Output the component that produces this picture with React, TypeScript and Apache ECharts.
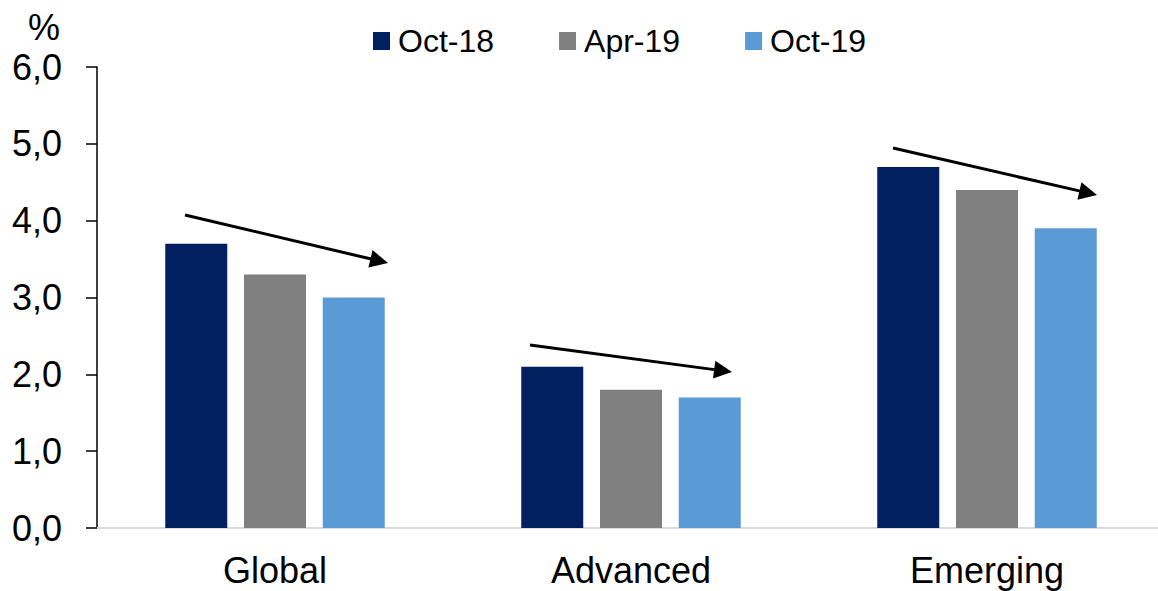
import React, { useEffect, useRef } from "react";
import * as echarts from "echarts";

const categories = ["Global", "Advanced", "Emerging"];
const seriesNames = ["Oct-18", "Apr-19", "Oct-19"];
const oct18 = [3.7, 2.1, 4.7];
const apr19 = [3.3, 1.8, 4.4];
const oct19 = [3.0, 1.7, 3.9];
const colors = ["#002060", "#808080", "#5B9BD5"];

// annotation arrows (pixel positions): x1, y1, x2 (tip), y2 (tip)
const arrows = [
  [185, 215, 388, 263],
  [530, 345, 732, 372],
  [893, 148, 1097, 195],
];

const FONT = "'Liberation Sans', Arial, sans-serif";

function arrowGraphics() {
  const els: any[] = [];
  arrows.forEach(([x1, y1, x2, y2]) => {
    const dx = x2 - x1;
    const dy = y2 - y1;
    const len = Math.sqrt(dx * dx + dy * dy);
    const ux = dx / len;
    const uy = dy / len;
    const px = -uy;
    const py = ux;
    const headLen = 18;
    const headHalf = 9;
    const bx = x2 - ux * headLen;
    const by = y2 - uy * headLen;
    els.push({
      type: "line",
      shape: { x1, y1, x2: bx + ux * 2, y2: by + uy * 2 },
      style: { stroke: "#000", lineWidth: 3 },
      z: 100,
    });
    els.push({
      type: "polygon",
      shape: {
        points: [
          [x2, y2],
          [bx + px * headHalf, by + py * headHalf],
          [bx - px * headHalf, by - py * headHalf],
        ],
      },
      style: { fill: "#000" },
      z: 100,
    });
  });
  return els;
}

export default function App() {
  const ref = useRef<HTMLDivElement>(null);
  useEffect(() => {
    if (!ref.current) return;
    const chart = echarts.init(ref.current, undefined, { renderer: "svg" });
    const data = [oct18, apr19, oct19];
    chart.setOption({
      animation: false,
      backgroundColor: "#fff",
      textStyle: { fontFamily: FONT },
      legend: {
        data: seriesNames,
        left: 373,
        top: 25,
        padding: 0,
        itemWidth: 17,
        itemHeight: 18,
        itemGap: 65,
        icon: "rect",
        textStyle: { fontSize: 32, color: "#000", fontFamily: FONT, padding: [0, 0, 0, 3] },
      },
      grid: { left: 97, right: 0, top: 67, bottom: 63, containLabel: false },
      xAxis: {
        type: "category",
        data: categories,
        axisLine: { show: true, lineStyle: { color: "#d9d9d9", width: 2 } },
        axisTick: { show: false },
        axisLabel: { fontSize: 36, color: "#000", margin: 24, fontFamily: FONT },
      },
      yAxis: {
        type: "value",
        min: 0,
        max: 6,
        interval: 1,
        axisLine: { show: true, lineStyle: { color: "#000", width: 1.5 } },
        axisTick: { show: true, length: 11, lineStyle: { color: "#000", width: 1.5 } },
        splitLine: { show: false },
        axisLabel: {
          fontSize: 36,
          color: "#000",
          margin: 35,
          fontFamily: FONT,
          formatter: (v: number) => v.toFixed(1).replace(".", ","),
        },
      },
      series: seriesNames.map((name, i) => ({
        name,
        type: "bar",
        data: data[i],
        barWidth: 62,
        barGap: "27%",
        itemStyle: { color: colors[i] },
      })),
      graphic: [
        {
          type: "text",
          left: 28,
          top: 9,
          style: { text: "%", fontSize: 36, fill: "#000", fontFamily: FONT },
        },
        ...arrowGraphics(),
      ],
    });
    return () => chart.dispose();
  }, []);
  return (
    <div style={{ position: "absolute", left: 0, top: 0, width: 1158, height: 591, overflow: "hidden" }}>
      <div ref={ref} style={{ width: 1165, height: 591 }} />
    </div>
  );
}
